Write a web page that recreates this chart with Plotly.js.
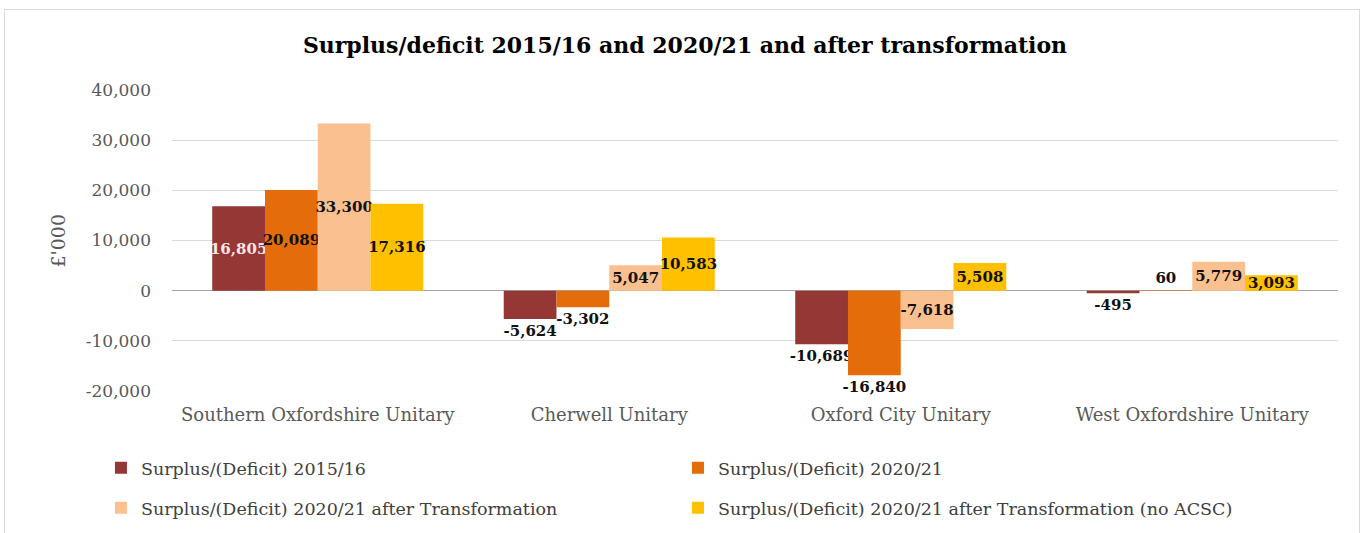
<!DOCTYPE html>
<html>
<head>
<meta charset="utf-8">
<script src="https://cdn.plot.ly/plotly-3.0.1.min.js"></script>
<style>
  body { margin: 0; background: #ffffff; }
  #chart { width: 1370px; height: 533px; }
  #frame { position: absolute; left: 4px; top: 9px; width: 1354px; height: 540px;
           border: 1.5px solid #d9d9d9; pointer-events: none; }
</style>
</head>
<body>
<div id="chart"></div>
<div id="frame"></div>
<script>
// categories and series (£'000)
const categories = ['Southern Oxfordshire Unitary', 'Cherwell Unitary', 'Oxford City Unitary', 'West Oxfordshire Unitary'];
const seriesNames = [
    'Surplus/(Deficit) 2015/16',
    'Surplus/(Deficit) 2020/21',
    'Surplus/(Deficit) 2020/21 after Transformation',
    'Surplus/(Deficit) 2020/21 after Transformation (no ACSC)'
];
const deficit1516 = [16805, -5624, -10689, -495];
const deficit2021 = [20089, -3302, -16840, 60];
const afterTransformation = [33300, 5047, -7618, 5779];
const afterTransformationNoAcsc = [17316, 10583, 5508, 3093];
const yTicks = [-20000, -10000, 0, 10000, 20000, 30000, 40000];

const colors = ['#953735', '#e46c0a', '#fac090', '#ffc000'];
const labelPos = [
    ['inside', 'outside', 'outside', 'outside'],
    ['inside', 'outside', 'outside', 'outside'],
    ['inside', 'inside', 'inside', 'inside'],
    ['inside', 'inside', 'inside', 'inside']
];
const labelColors = [
    ['#fbe5e5', '#111', '#111', '#111'],
    ['#111', '#111', '#111', '#111'],
    ['#111', '#111', '#111', '#111'],
    ['#111', '#111', '#111', '#111']
];
// two legend rows, as in the original
const legendRow = ['legend', 'legend', 'legend2', 'legend2'];

const serif = '"DejaVu Serif", "Liberation Serif", serif';
const fmt = v => v.toLocaleString('en-GB');

const values = [deficit1516, deficit2021, afterTransformation, afterTransformationNoAcsc];
const data = values.map((vals, i) => ({
    type: 'bar',
    name: seriesNames[i],
    legend: legendRow[i],
    x: categories,
    y: vals,
    text: vals.map(fmt),
    textposition: labelPos[i],
    insidetextanchor: 'middle',
    textangle: 0,
    textfont: { family: serif, size: 15, color: labelColors[i], weight: 'bold' },
    constraintext: 'none',
    cliponaxis: false,
    marker: { color: colors[i] },
    hoverinfo: 'x+y'
}));

const legendBase = {
    orientation: 'h',
    xref: 'container',
    x: 0.0737,
    xanchor: 'left',
    yref: 'container',
    yanchor: 'top',
    entrywidth: 532,
    entrywidthmode: 'pixels',
    itemwidth: 30,
    bgcolor: 'rgba(0,0,0,0)',
    font: { family: serif, size: 17.5, color: '#404040' }
};

const layout = {
    width: 1370,
    height: 533,
    margin: { l: 172, r: 32, t: 90, b: 142 },
    paper_bgcolor: '#ffffff',
    plot_bgcolor: '#ffffff',
    barmode: 'group',
    bargap: 0.276,
    bargroupgap: 0,
    title: {
        text: '<b>Surplus/deficit 2015/16 and 2020/21 and after transformation</b>',
        font: { family: serif, size: 22, color: '#000000' },
        x: 0.5,
        xanchor: 'center',
        y: 0.915,
        yanchor: 'middle'
    },
    xaxis: {
        type: 'category',
        showgrid: false,
        showline: false,
        zeroline: false,
        ticks: '',
        ticklabelstandoff: 11,
        tickfont: { family: serif, size: 18, color: '#595959' }
    },
    yaxis: {
        range: [-20000, 40000],
        tickvals: yTicks,
        ticktext: yTicks.map(fmt),
        showgrid: true,
        gridcolor: '#d9d9d9',
        gridwidth: 1,
        zeroline: true,
        zerolinecolor: '#a6a6a6',
        zerolinewidth: 1.5,
        showline: false,
        ticks: '',
        ticklabelstandoff: 20,
        tickfont: { family: serif, size: 17, color: '#595959' }
    },
    annotations: [{
        text: '£\'000',
        xref: 'paper', yref: 'paper',
        x: -0.0986, y: 0.5,
        xanchor: 'center', yanchor: 'middle',
        textangle: -90,
        showarrow: false,
        font: { family: serif, size: 19, color: '#595959' }
    }],
    legend: Object.assign({}, legendBase, { y: 0.156 }),
    legend2: Object.assign({}, legendBase, { y: 0.081 }),
    showlegend: true
};

Plotly.newPlot('chart', data, layout, { displayModeBar: false, staticPlot: true });
</script>
</body>
</html>
